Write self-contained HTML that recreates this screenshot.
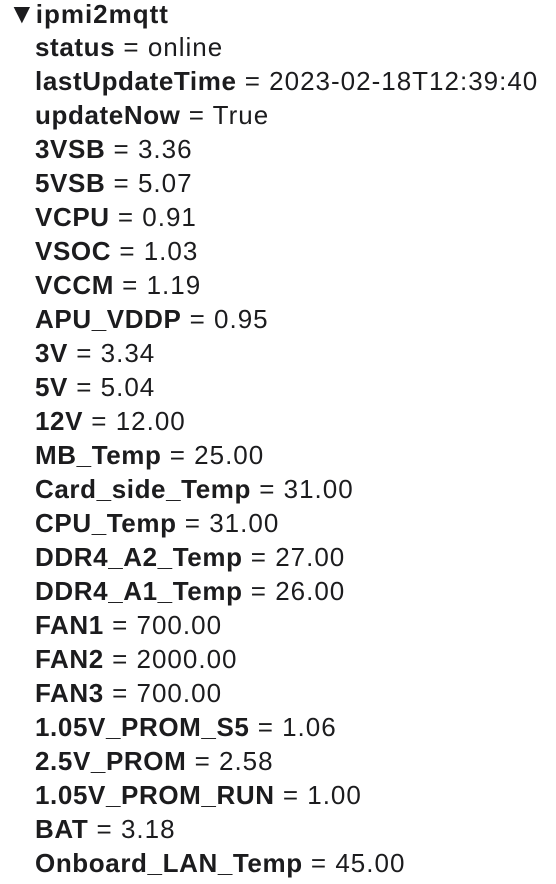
<!DOCTYPE html>
<html><head><meta charset="utf-8"><style>
html,body{margin:0;padding:0;background:#fff;width:556px;height:884px;overflow:hidden}
body{font-family:"Liberation Sans",sans-serif;color:#1c1c1e;font-size:26px;letter-spacing:1px;position:relative}
.row{position:absolute;left:35px;height:34px;line-height:34px;white-space:nowrap}
.row b{font-weight:bold;letter-spacing:0.6px}
.title{position:absolute;left:8px;top:-3px;line-height:34px;font-weight:bold;font-size:26px}
</style></head><body>
<div class="title"><span style="font-size:28px;letter-spacing:0">▼</span>ipmi2mqtt</div>
<div id="list"></div>
<script>
var keys=["status","lastUpdateTime","updateNow","3VSB","5VSB","VCPU","VSOC","VCCM","APU_VDDP","3V","5V","12V","MB_Temp","Card_side_Temp","CPU_Temp","DDR4_A2_Temp","DDR4_A1_Temp","FAN1","FAN2","FAN3","1.05V_PROM_S5","2.5V_PROM","1.05V_PROM_RUN","BAT","Onboard_LAN_Temp"];
var vals=["online","2023-02-18T12:39:40","True","3.36","5.07","0.91","1.03","1.19","0.95","3.34","5.04","12.00","25.00","31.00","31.00","27.00","26.00","700.00","2000.00","700.00","1.06","2.58","1.00","3.18","45.00"];
var list=document.getElementById('list');
for(var i=0;i<keys.length;i++){
  var d=document.createElement('div');
  d.className='row';
  d.style.top=(30+i*34)+'px';
  
  
  d.innerHTML='<b>'+keys[i]+'</b> = '+vals[i];
  list.appendChild(d);
}
</script>
</body></html>
